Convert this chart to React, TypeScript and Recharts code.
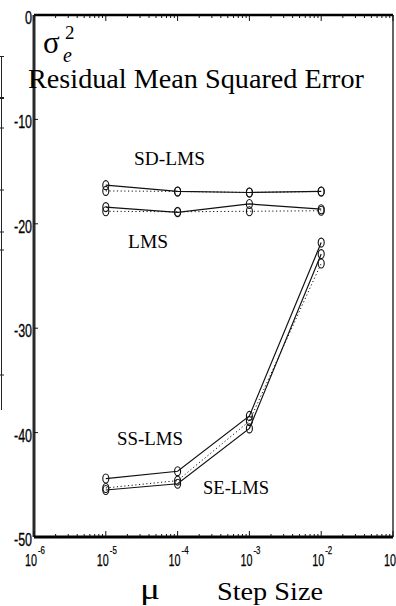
import React from "react";
import { LineChart, Line, XAxis, YAxis, ReferenceLine } from "recharts";

const stepSizes = [1e-5, 1e-4, 1e-3, 1e-2];
const sdLmsSolid = [-16.3, -16.9, -17.0, -16.9];
const sdLmsDotted = [-16.85, -16.9, -17.0, -16.9];
const lmsSolid = [-18.4, -18.9, -18.1, -18.6];
const lmsDotted = [-18.8, -18.85, -18.8, -18.75];
const ssLms = [-44.4, -43.7, -38.4, -21.8];
const seLms = [-45.5, -44.9, -39.6, -22.9];
const dottedLow = [-45.3, -44.6, -38.9, -23.8];

const yTicks = [0, -10, -20, -30, -40, -50];
const decades = [-6, -5, -4, -3, -2];
const xMin = 1e-6;
const xMax = 0.1;
const yMin = -50;
const yMax = 0;

const xTicks: number[] = [];
decades.forEach((k) => {
  xTicks.push(Number(Math.pow(10, k).toPrecision(3)));
  for (let m = 2; m <= 9; m++) xTicks.push(Number((m * Math.pow(10, k)).toPrecision(3)));
});
xTicks.push(xMax);

const data = stepSizes.map((x, i) => ({
  x,
  sdS: sdLmsSolid[i],
  sdD: sdLmsDotted[i],
  lmsS: lmsSolid[i],
  lmsD: lmsDotted[i],
  ss: ssLms[i],
  se: seLms[i],
  low: dottedLow[i],
}));

const isMajor = (v: number) => {
  const l = Math.log10(v);
  return Math.abs(l - Math.round(l)) < 1e-6;
};

const SANS = "'Liberation Sans Narrow', 'Liberation Sans', Arial, sans-serif";
const SERIF = "'Liberation Serif', 'Times New Roman', Times, serif";

const BottomTick = (props: any) => {
  const { x, y, payload } = props;
  const v = payload.value;
  const major = isMajor(v);
  const len = major ? 6 : 3;
  const exp = Math.round(Math.log10(v));
  return (
    <g>
      <line x1={x} y1={y} x2={x} y2={y - len} stroke="#111" strokeWidth={1} />
      {major && (
        <g fontFamily={SANS} fill="#000" stroke="#000" strokeWidth={0.25}>
          <text x={x - 9} y={y + 29} fontSize={16} textLength={12} lengthAdjust="spacingAndGlyphs">10</text>
          <text x={x + 4} y={y + 17} fontSize={11} textLength={7} lengthAdjust="spacingAndGlyphs">{String(exp)}</text>
        </g>
      )}
    </g>
  );
};

const TopTick = (props: any) => {
  const { x, y, payload } = props;
  const len = isMajor(payload.value) ? 6 : 3;
  return <line x1={x} y1={y} x2={x} y2={y + len} stroke="#111" strokeWidth={1} />;
};

const LeftTick = (props: any) => {
  const { x, y, payload } = props;
  const label = String(payload.value);
  return (
    <g>
      <line x1={x} y1={y} x2={x + 4} y2={y} stroke="#111" strokeWidth={1} />
      <text x={x - 2} y={y + 9} fontSize={19} fontFamily={SANS} fill="#000" stroke="#000" strokeWidth={0.3} textAnchor="end"
        textLength={label.length === 1 ? 7 : 18} lengthAdjust="spacingAndGlyphs">{label}</text>
    </g>
  );
};

const RightTick = (props: any) => {
  const { x, y } = props;
  return <line x1={x} y1={y} x2={x - 3} y2={y} stroke="#111" strokeWidth={1} />;
};

const Marker = (props: any) => {
  const { cx, cy, index, dataKey } = props;
  if (cx == null || cy == null) return <g key={`${dataKey}-${index}`} />;
  return (
    <ellipse key={`${dataKey}-${index}`} cx={cx} cy={cy} rx={3} ry={4.5} fill="none" stroke="#111" strokeWidth={1.1} />
  );
};

const seriesStyle: Record<string, any> = {
  sdS: { dash: undefined },
  sdD: { dash: "1.2 2.5" },
  lmsS: { dash: undefined },
  lmsD: { dash: "1.2 2.5" },
  ss: { dash: undefined },
  se: { dash: undefined },
  low: { dash: "1.2 2.5" },
};

export default function App() {
  return (
    <div style={{ position: "absolute", left: 0, top: 0, width: 396, height: 606, background: "#fff" }}>
      <LineChart width={396} height={606} data={data} margin={{ top: 0, right: 0, left: 0, bottom: 29 }}>
        <XAxis
          dataKey="x"
          type="number"
          scale="log"
          domain={[xMin, xMax]}
          allowDataOverflow
          ticks={xTicks}
          interval={0}
          height={40}
          tickSize={0}
          tickMargin={0}
          tickLine={false}
          axisLine={false}
          tick={<BottomTick />}
        />
        <XAxis
          xAxisId="top"
          orientation="top"
          dataKey="x"
          type="number"
          scale="log"
          domain={[xMin, xMax]}
          allowDataOverflow
          ticks={xTicks}
          interval={0}
          height={15}
          tickSize={0}
          tickMargin={0}
          tickLine={false}
          axisLine={false}
          tick={<TopTick />}
        />
        <YAxis
          type="number"
          domain={[yMin, yMax]}
          ticks={yTicks}
          interval={0}
          width={34}
          tickSize={0}
          tickMargin={0}
          tickLine={false}
          axisLine={false}
          tick={<LeftTick />}
        />
        <YAxis
          yAxisId="right"
          orientation="right"
          type="number"
          domain={[yMin, yMax]}
          ticks={yTicks}
          interval={0}
          width={3}
          tickSize={0}
          tickMargin={0}
          tickLine={false}
          axisLine={false}
          tick={<RightTick />}
        />
        <ReferenceLine x={xMin} stroke="#2a2a2a" strokeWidth={3} ifOverflow="visible" />
        <ReferenceLine x={xMax} stroke="#111" strokeWidth={1.3} ifOverflow="visible" />
        <ReferenceLine y={yMax} stroke="#000" strokeWidth={2.5} ifOverflow="visible" />
        <ReferenceLine y={yMin} stroke="#000" strokeWidth={3} ifOverflow="visible" />
        {Object.keys(seriesStyle).map((k) => (
          <Line
            key={k}
            dataKey={k}
            type="linear"
            stroke="#111"
            strokeWidth={seriesStyle[k].dash ? 1 : 1.2}
            strokeDasharray={seriesStyle[k].dash}
            dot={<Marker />}
            activeDot={false}
            isAnimationActive={false}
          />
        ))}
      </LineChart>
      <svg width={396} height={606} style={{ position: "absolute", left: 0, top: 0, pointerEvents: "none" }}>
        <g stroke="#222" strokeWidth={1}>
          <line x1={1.5} y1={56} x2={1.5} y2={410} />
          <line x1={0} y1={56.5} x2={4} y2={56.5} />
          <line x1={0} y1={98} x2={4} y2={98} strokeWidth={2} />
          <line x1={0} y1={128} x2={4} y2={128} />
          <line x1={0} y1={190} x2={4} y2={190} />
          <line x1={0} y1={232} x2={4} y2={232} />
          <line x1={0} y1={250} x2={4} y2={250} />
          <line x1={0} y1={375} x2={4} y2={375} />
        </g>
        <g fontFamily={SERIF} fill="#000">
          <text x={43} y={53} fontSize={31}>σ</text>
          <text x={65} y={39} fontSize={19}>2</text>
          <text x={63} y={62} fontSize={20} fontStyle="italic">e</text>
          <text x={28} y={88} fontSize={27} textLength={336} lengthAdjust="spacingAndGlyphs">Residual Mean Squared Error</text>
          <text x={134} y={165} fontSize={18} textLength={71} lengthAdjust="spacingAndGlyphs">SD-LMS</text>
          <text x={128} y={248} fontSize={18} textLength={40} lengthAdjust="spacingAndGlyphs">LMS</text>
          <text x={117} y={445} fontSize={18} textLength={66} lengthAdjust="spacingAndGlyphs">SS-LMS</text>
          <text x={203} y={494} fontSize={18} textLength={66} lengthAdjust="spacingAndGlyphs">SE-LMS</text>
          <text x={140} y={599} fontSize={30} textLength={20} lengthAdjust="spacingAndGlyphs">μ</text>
          <text x={217} y={600} fontSize={26} textLength={106} lengthAdjust="spacingAndGlyphs">Step Size</text>
        </g>
      </svg>
    </div>
  );
}
